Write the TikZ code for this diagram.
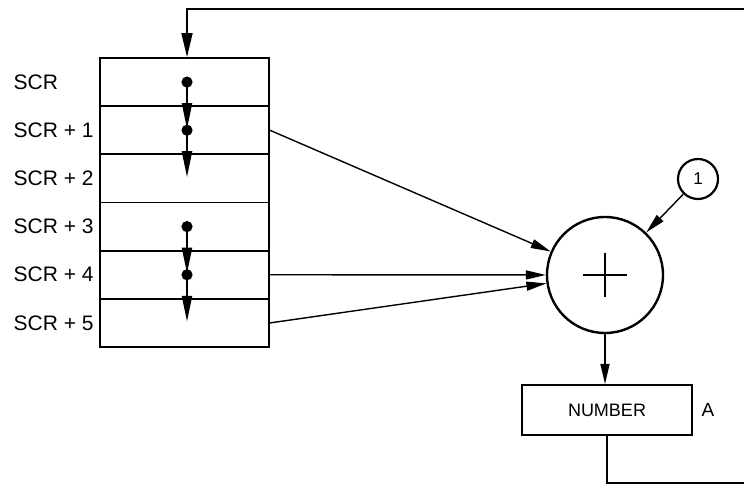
\documentclass[tikz,border=0pt]{standalone}
\usepackage{fontspec}
\setmainfont{Liberation Sans}
\usetikzlibrary{arrows.meta}

\begin{document}
\begin{tikzpicture}[x=0.5pt,y=-0.5pt,draw=black,line width=0.7pt,
    cell/.style={draw,line width=0.9pt,minimum width=84.5pt,minimum height=24.08pt,inner sep=0pt},
    lbl/.style={anchor=west,inner sep=0pt,font=\fontsize{10.5}{12}\selectfont},
    tip/.style={-{Triangle[length=10pt,width=4.5pt]}},
    dtip/.style={line width=1.1pt,-{Triangle[length=13pt,width=5pt]}}]
    \useasboundingbox (0,0) rectangle (744,485);

    % memory rows
    \foreach \i in {0,...,5}
        \node[cell] (r\i) at (184.5,{82.08+48.17*\i}) {};
    \node[lbl] (l0) at (13,82) {SCR};
    \foreach \i in {1,...,5}
        \node[lbl] (l\i) at (13,{82.08+48.17*\i}) {SCR + \i};

    % dots and steps
    \foreach \i in {0,1,3,4} {
        \coordinate (d\i) at (187,{82.08+48.17*\i});
        \coordinate (e\i) at (187,{82.08+48.17*\i+47});
        \fill (d\i) circle (2.8pt);
        \draw[dtip] (d\i) -- (e\i);
    }

    \node[draw,circle,line width=1.2pt,minimum size=58pt,inner sep=0pt] (plus) at (605,275) {};
    \draw[line width=1.3pt] (plus.center) ++(-22,0) -- ++(44,0)
        (plus.center) ++(0,-22) -- ++(0,44);
    \node[draw,circle,line width=1.1pt,minimum size=20pt,inner sep=0pt,font=\fontsize{8.5}{10}\selectfont] (one) at (698,179) {1};
    \node[draw,line width=1pt,minimum width=85pt,minimum height=25pt,inner sep=0pt,font=\fontsize{9}{10}\selectfont] (num) at (607,410) {NUMBER};
    \node[font=\fontsize{9.5}{10}\selectfont] (a) at (708,410) {A};

    \draw[tip] (r1.east) -- (plus);
    \draw[tip] (r4.east) -- (plus);
    \draw[tip] (r5.east) -- (plus);
    \draw[tip] (one) -- (plus);
    \draw[tip] (plus.south) -- (plus.south |- num.north);

    % back to the top
    \coordinate (fbB) at (760,483);
    \coordinate (fbT) at (187,9);
    \draw[line width=0.8pt,-{Triangle[length=12pt,width=5.5pt]}] (num.south) |- (fbB) |- (fbT) -- (fbT |- r0.north);
\end{tikzpicture}
\end{document}
